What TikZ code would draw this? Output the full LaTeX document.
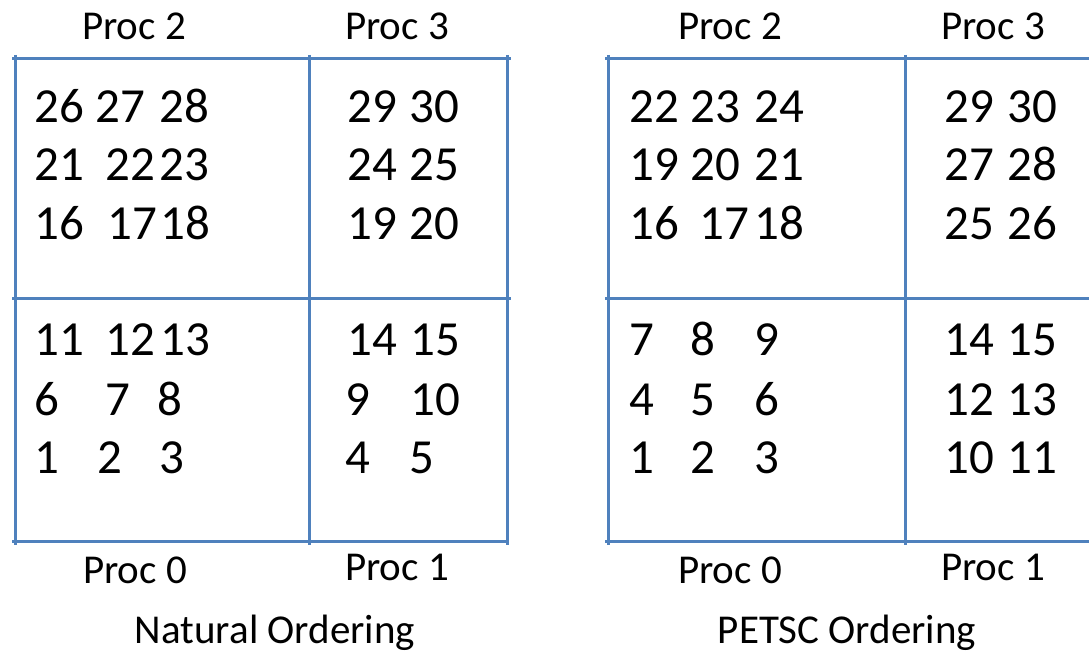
\documentclass[tikz,border=0pt]{standalone}
\usepackage{fontspec}
\setmainfont{Carlito}
\usepackage{tikz}
\definecolor{gridblue}{RGB}{79,129,189}

\begin{document}
\begin{tikzpicture}[
  x=1pt, y=-1pt,
  num/.style={anchor=base west, inner sep=0pt, font=\fontsize{49}{49}\selectfont},
  proc/.style={anchor=base, inner sep=0pt, font=\fontsize{41}{41}\selectfont},
  gridline/.style={draw=gridblue, line width=3pt}
]
\useasboundingbox (0,0) rectangle (1089,652);
\clip (0,0) rectangle (1089,652);

% Natural ordering grid
\draw[gridline] (12,59) -- (511,59);
\draw[gridline] (12,298) -- (511,298);
\draw[gridline] (12,541) -- (507,541);
\draw[gridline] (15,55) -- (15,545);
\draw[gridline] (309,55) -- (309,545);
\draw[gridline] (507,55) -- (507,545);

% PETSC ordering grid
\draw[gridline] (605,59) -- (1100,59);
\draw[gridline] (605,298) -- (1100,298);
\draw[gridline] (605,541) -- (1100,541);
\draw[gridline] (608,55) -- (608,545);
\draw[gridline] (905,55) -- (905,545);

% Natural numbering
\foreach \px/\py/\t in {34/123/26, 95/123/27, 159/123/28,
                        34/181/21, 105/181/22, 159/181/23,
                        34/240/16, 107/240/17, 160/240/18,
                        347/123/29, 409/123/30,
                        347/181/24, 409/181/25,
                        347/240/19, 409/240/20,
                        34/355/11, 105/355/12, 160/355/13,
                        34/415/6, 105/415/7, 157/415/8,
                        34/473/1, 97/473/2, 159/473/3,
                        347/355/14, 410/355/15,
                        345/415/9, 410/415/10,
                        345/473/4, 409/473/5}
  \node[num] (nat\t) at (\px,\py) {\t};

% PETSC numbering
\foreach \px/\py/\t in {629/123/22, 690/123/23, 754/123/24,
                        629/181/19, 690/181/20, 754/181/21,
                        629/240/16, 699/240/17, 754/240/18,
                        944/123/29, 1007/123/30,
                        944/181/27, 1007/181/28,
                        944/240/25, 1007/240/26,
                        629/355/7, 690/355/8, 754/355/9,
                        629/415/4, 690/415/5, 754/415/6,
                        629/473/1, 690/473/2, 754/473/3,
                        944/355/14, 1007/355/15,
                        944/415/12, 1007/415/13,
                        944/473/10, 1007/473/11}
  \node[num] (pet\t) at (\px,\py) {\t};

% Process labels
\node[proc] (natp2) at (134,40)  {Proc 2};
\node[proc] (natp3) at (397,40)  {Proc 3};
\node[proc] (natp0) at (135,583) {Proc 0};
\node[proc] (natp1) at (397,580) {Proc 1};
\node[proc] (petp2) at (730,40)  {Proc 2};
\node[proc] (petp3) at (993,40)  {Proc 3};
\node[proc] (petp0) at (730,583) {Proc 0};
\node[proc] (petp1) at (993,580) {Proc 1};

% Titles
\node[proc] (nattitle) at (275,643) {Natural Ordering};
\node[proc] (pettitle) at (847,643) {PETSC Ordering};

\end{tikzpicture}
\end{document}
